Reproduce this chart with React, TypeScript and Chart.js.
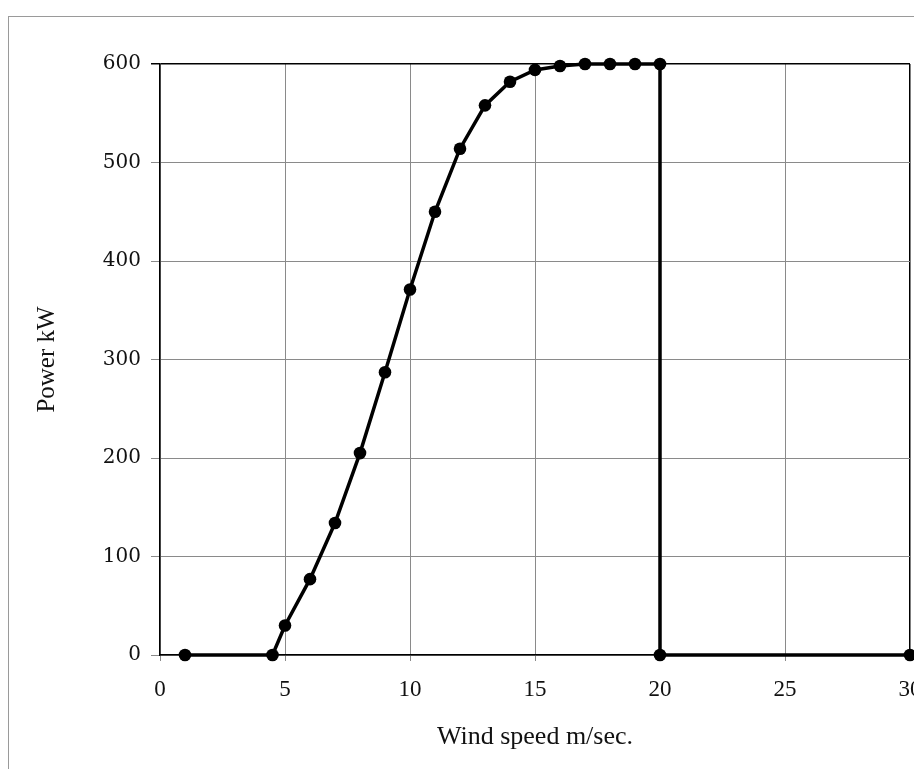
import React, { useEffect, useRef } from "react";
import { Chart, registerables } from "chart.js";

Chart.register(...registerables);

// Wind speed (m/s) and power output (kW)
const windSpeed: number[] = [1, 4.5, 5, 6, 7, 8, 9, 10, 11, 12, 13, 14, 15, 16, 17, 18, 19, 20, 20, 30];
const powerKW: number[] = [0, 0, 30, 77, 134, 205, 287, 371, 450, 514, 558, 582, 594, 598, 600, 600, 600, 600, 0, 0];

const xTicks: number[] = [0, 5, 10, 15, 20, 25, 30];
const yTicks: number[] = [0, 100, 200, 300, 400, 500, 600];

const xTitle = "Wind speed m/sec.";
const yTitle = "Power kW";

export default function App() {
  const canvasRef = useRef<HTMLCanvasElement | null>(null);

  useEffect(() => {
    if (!canvasRef.current) return;
    const points = windSpeed.map((x, i) => ({ x, y: powerKW[i] }));
    const chart = new Chart(canvasRef.current, {
      type: "line",
      data: {
        datasets: [
          {
            data: points,
            borderColor: "#000",
            borderWidth: 3.5,
            pointRadius: 6.3,
            pointBackgroundColor: "#000",
            pointBorderColor: "#000",
            pointBorderWidth: 0,
            tension: 0,
            clip: false as any,
          },
        ],
      },
      options: {
        animation: false,
        responsive: false,
        maintainAspectRatio: false,
        layout: { padding: { top: 56, right: 12, left: 0, bottom: 0 } },
        plugins: {
          legend: { display: false },
          tooltip: { enabled: false },
        },
        scales: {
          x: {
            type: "linear",
            min: xTicks[0],
            max: xTicks[xTicks.length - 1],
            afterFit: (s: any) => {
              s.height = 114;
              s.paddingLeft = 0;
              s.paddingRight = 0;
            },
            afterBuildTicks: (s: any) => {
              s.ticks = xTicks.map((v) => ({ value: v }));
            },
            ticks: {
              stepSize: 5,
              padding: 15,
              color: "#111",
              font: { family: "'Liberation Serif', serif", size: 23 },
            },
            grid: {
              color: (ctx: any) => (ctx.tick && ctx.tick.value === 30 ? "#000" : "#8a8a8a"),
              lineWidth: (ctx: any) => (ctx.tick && ctx.tick.value === 30 ? 1.5 : 1),
              tickLength: 6,
            },
            border: { color: "#000", width: 1.5 },
            title: {
              display: true,
              text: xTitle,
              color: "#111",
              font: { family: "'Liberation Serif', serif", size: 26 },
              padding: { top: 0, bottom: 16 },
            },
          },
          y: {
            type: "linear",
            min: yTicks[0],
            max: yTicks[yTicks.length - 1],
            afterFit: (s: any) => {
              s.width = 152;
              s.paddingTop = 0;
              s.paddingBottom = 0;
            },
            afterBuildTicks: (s: any) => {
              s.ticks = yTicks.map((v) => ({ value: v }));
            },
            ticks: {
              stepSize: 100,
              padding: 10,
              color: "#111",
              font: { family: "'DejaVu Serif', serif", size: 20 },
            },
            grid: {
              color: (ctx: any) => (ctx.tick && ctx.tick.value === 600 ? "#000" : "#8a8a8a"),
              lineWidth: (ctx: any) => (ctx.tick && ctx.tick.value === 600 ? 1.5 : 1),
              tickLength: 9,
            },
            border: { color: "#000", width: 1.5 },
            title: {
              display: true,
              text: yTitle,
              color: "#111",
              font: { family: "'Liberation Serif', serif", size: 25 },
              padding: { top: 24, bottom: 0 },
            },
          },
        },
      },
    });
    return () => chart.destroy();
  }, []);

  return (
    <div style={{ position: "relative", width: 914, height: 761 }}>
      <div
        style={{
          position: "absolute",
          left: 0,
          top: 8,
          width: 914,
          height: 753,
          borderLeft: "1.5px solid #9a9a9a",
          borderTop: "1.5px solid #9a9a9a",
          boxSizing: "border-box",
        }}
      />
      <canvas
        ref={canvasRef}
        width={914}
        height={761}
        style={{ position: "absolute", left: 0, top: 0, width: 914, height: 761 }}
      />
    </div>
  );
}
